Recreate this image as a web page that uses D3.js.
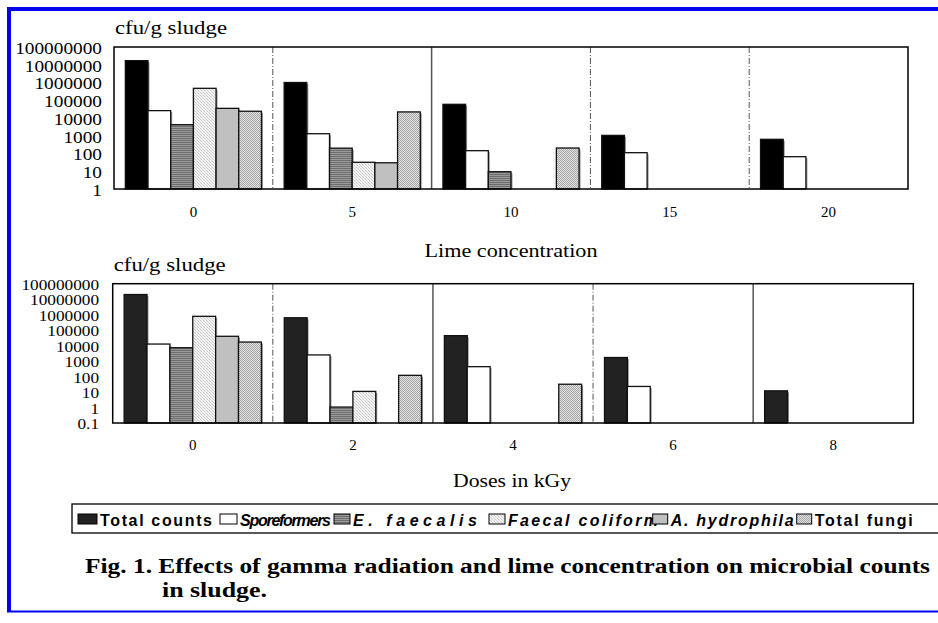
<html>
<script src='https://d3js.org/d3.v7.min.js'></script>
<style>
body { margin: 0; background: #fff; }
text { fill: #000; }
.serif { font-family: "Liberation Serif", "Times New Roman", serif; }
.sans { font-family: "Liberation Sans", Arial, sans-serif; font-weight: bold; }
</style>
<body onload='init()'>
<svg width=938 height=623></svg>
<script>
// categories
const limeGroups = ["0", "5", "10", "15", "20"];
const doseGroups = ["0", "2", "4", "6", "8"];
const seriesNames = ["Total counts", "Sporeformers", "E. faecalis", "Faecal coliform", "A. hydrophila", "Total fungi"];

// lime concentration panel, cfu/g sludge (null = no bar)
const limeTotal  = [1.7e7, 1.0e6, 5.9e4, 1.05e3, 630];
const limeSpore  = [2.6e4, 1.3e3, 144, 111, 66];
const limeEfaec  = [4.2e3, 200, 9.4, null, null];
const limeFaecal = [4.7e5, 32, null, null, null];
const limeAhyd   = [3.5e4, 30, null, null, null];
const limeFungi  = [2.4e4, 2.2e4, 204, null, null];

// gamma dose panel
const doseTotal  = [2.0e7, 6.3e5, 4.4e4, 1.7e3, 12];
const doseSpore  = [1.26e4, 2.5e3, 436, 23, null];
const doseEfaec  = [7.3e3, 1.07, null, null, null];
const doseFaecal = [7.8e5, 11, null, null, null];
const doseAhyd   = [4.0e4, null, null, null, null];
const doseFungi  = [1.7e4, 120, 32, null, null];

const limeTicks = [1, 10, 100, 1000, 10000, 100000, 1000000, 10000000, 100000000];
const doseTicks = [0.1, 1, 10, 100, 1000, 10000, 100000, 1000000, 10000000, 100000000];

const fills = ["#000", "#fff", "url(#pEf)", "url(#pFc)", "#c0c0c0", "url(#pFungi)"];

function stretch(sel, k) {
    sel.each(function() {
        const w = this.getComputedTextLength();
        d3.select(this).attr("textLength", w * k).attr("lengthAdjust", "spacingAndGlyphs");
    });
}

function panel(svg, o) {
    const g = svg.append("g");
    const x0 = d3.scaleBand().domain(o.groups).range([o.left, o.right]);
    const x1 = d3.scaleBand().domain(seriesNames).range([0, x0.bandwidth()]).paddingInner(0).paddingOuter(0.5);
    const y = d3.scaleLog().domain(o.domain).range([o.bottom, o.top]);

    const rows = [];
    o.series.forEach((vals, si) => vals.forEach((v, gi) => {
        if (v != null) rows.push({ g: o.groups[gi], s: seriesNames[si], si: si, v: v });
    }));

    // grey shadow on the right of each bar
    g.selectAll("rect.shadow").data(rows).enter().append("rect")
        .attr("class", "shadow")
        .attr("x", d => x0(d.g) + x1(d.s) + 1.5)
        .attr("y", d => y(d.v) + 1.5)
        .attr("width", x1.bandwidth())
        .attr("height", d => o.bottom - y(d.v) - 1.5)
        .attr("fill", "#999");

    g.selectAll("rect.bar").data(rows).enter().append("rect")
        .attr("class", "bar")
        .attr("x", d => x0(d.g) + x1(d.s))
        .attr("y", d => y(d.v))
        .attr("width", x1.bandwidth())
        .attr("height", d => o.bottom - y(d.v))
        .attr("fill", d => d.si == 0 ? o.totalColor : fills[d.si])
        .attr("stroke", "#111")
        .attr("stroke-width", 1.3);

    // separators between groups
    g.selectAll("line.sep").data(o.groups.slice(1)).enter().append("line")
        .attr("x1", d => x0(d)).attr("x2", d => x0(d))
        .attr("y1", o.top).attr("y2", o.bottom)
        .attr("stroke", (d, i) => o.sepSolid[i] ? "#555" : "#555")
        .attr("stroke-width", (d, i) => o.sepSolid[i] ? 1.5 : 1)
        .attr("stroke-dasharray", (d, i) => o.sepSolid[i] ? null : "6,2,1,2");

    g.append("rect")
        .attr("x", o.left).attr("y", o.top)
        .attr("width", o.right - o.left).attr("height", o.bottom - o.top)
        .attr("fill", "none").attr("stroke", "#000").attr("stroke-width", 1.5);

    const ya = g.append("g")
        .attr("transform", "translate(" + o.labelX + ",1)")
        .call(d3.axisLeft(y).tickValues(o.ticks).tickFormat(d => String(d)).tickSize(0).tickPadding(0));
    ya.select(".domain").remove();
    ya.selectAll("text").attr("class", "serif").style("font-size", o.tickFont + "px").attr("fill", "#000");
    stretch(ya.selectAll("text"), o.tickStretch);

    const xa = g.append("g")
        .attr("transform", "translate(0," + o.xLabelY + ")")
        .call(d3.axisBottom(x0).tickSize(0).tickPadding(0));
    xa.select(".domain").remove();
    xa.selectAll("text").attr("class", "serif").style("font-size", "15px").attr("fill", "#000");

    svg.append("text").attr("class", "serif")
        .attr("x", o.left + 1).attr("y", o.unitY)
        .style("font-size", "18px")
        .attr("textLength", 112).attr("lengthAdjust", "spacingAndGlyphs")
        .text("cfu/g sludge");

    svg.append("text").attr("class", "serif")
        .attr("x", o.titleX).attr("y", o.titleY)
        .attr("text-anchor", "middle")
        .style("font-size", "18px")
        .attr("textLength", o.titleW).attr("lengthAdjust", "spacingAndGlyphs")
        .text(o.title);
}

function init() {
    const svg = d3.select("svg");
    const defs = svg.append("defs");

    let p = defs.append("pattern").attr("id", "pEf").attr("width", 4).attr("height", 2).attr("patternUnits", "userSpaceOnUse");
    p.append("rect").attr("width", 4).attr("height", 2).attr("fill", "#9a9a9a");
    p.append("rect").attr("width", 4).attr("height", 1).attr("fill", "#6e6e6e");

    p = defs.append("pattern").attr("id", "pFc").attr("width", 3).attr("height", 3).attr("patternUnits", "userSpaceOnUse");
    p.append("rect").attr("width", 3).attr("height", 3).attr("fill", "#f2f2f2");
    p.append("rect").attr("x", 0).attr("y", 0).attr("width", 1).attr("height", 1).attr("fill", "#c8c8c8");
    p.append("rect").attr("x", 1).attr("y", 1).attr("width", 1).attr("height", 1).attr("fill", "#d8d8d8");
    p.append("rect").attr("x", 2).attr("y", 2).attr("width", 1).attr("height", 1).attr("fill", "#c8c8c8");

    p = defs.append("pattern").attr("id", "pFungi").attr("width", 2).attr("height", 2).attr("patternUnits", "userSpaceOnUse");
    p.append("rect").attr("width", 2).attr("height", 2).attr("fill", "#e0e0e0");
    p.append("rect").attr("width", 1).attr("height", 1).attr("fill", "#a8a8a8");
    p.append("rect").attr("x", 1).attr("y", 1).attr("width", 1).attr("height", 1).attr("fill", "#a8a8a8");

    // page frame
    svg.append("rect").attr("x", 0).attr("y", 0).attr("width", 938).attr("height", 623).attr("fill", "#fff");
    svg.append("line").attr("x1", 7).attr("x2", 938).attr("y1", 9).attr("y2", 9).attr("stroke", "#0000ee").attr("stroke-width", 4);
    svg.append("line").attr("x1", 9).attr("x2", 9).attr("y1", 7).attr("y2", 612).attr("stroke", "#0000ee").attr("stroke-width", 4);
    svg.append("line").attr("x1", 7).attr("x2", 938).attr("y1", 611.5).attr("y2", 611.5).attr("stroke", "#0000ee").attr("stroke-width", 2);

    panel(svg, {
        groups: limeGroups,
        series: [limeTotal, limeSpore, limeEfaec, limeFaecal, limeAhyd, limeFungi],
        left: 114, right: 908, top: 47, bottom: 189,
        domain: [1, 1e8], ticks: limeTicks,
        labelX: 102, tickFont: 16.5, tickStretch: 1.17,
        xLabelY: 206, totalColor: "#000",
        sepSolid: [false, true, false, false],
        unitY: 34,
        title: "Lime concentration", titleX: 511, titleY: 257, titleW: 173
    });

    panel(svg, {
        groups: doseGroups,
        series: [doseTotal, doseSpore, doseEfaec, doseFaecal, doseAhyd, doseFungi],
        left: 112.7, right: 913.3, top: 283.7, bottom: 423,
        domain: [0.1, 1e8], ticks: doseTicks,
        labelX: 99, tickFont: 15, tickStretch: 1.15,
        xLabelY: 439, totalColor: "#222",
        sepSolid: [false, true, false, true],
        unitY: 271,
        title: "Doses in kGy", titleX: 512, titleY: 487, titleW: 118
    });

    // legend
    const legendX = [78, 220, 334, 489, 652.7, 796.7];
    const legendSw = [19, 17, 16, 16, 15, 15];
    const legendTw = [112, 91, 124, 150, 123, 98];
    const lg = svg.append("g");
    lg.append("rect").attr("x", 72).attr("y", 504).attr("width", 880).attr("height", 29)
        .attr("fill", "#fff").attr("stroke", "#000").attr("stroke-width", 1.3);
    lg.selectAll("text").data(seriesNames).enter().append("text")
        .attr("class", "sans")
        .attr("x", (d, i) => legendX[i] + legendSw[i] + 3)
        .attr("y", 525.5)
        .style("font-size", "16px")
        .style("font-style", (d, i) => (i > 0 && i < 5) ? "italic" : "normal")
        .attr("textLength", (d, i) => legendTw[i]).attr("lengthAdjust", "spacing")
        .text(d => d);
    lg.selectAll("rect.sw").data(seriesNames).enter().append("rect")
        .attr("class", "sw")
        .attr("x", (d, i) => legendX[i]).attr("y", 514)
        .attr("width", (d, i) => legendSw[i]).attr("height", 10)
        .attr("fill", (d, i) => i == 0 ? "#222" : fills[i])
        .attr("stroke", "#000").attr("stroke-width", 1);

    // caption
    svg.append("text").attr("class", "serif")
        .attr("x", 85).attr("y", 573)
        .style("font-size", "20px").style("font-weight", "bold")
        .attr("textLength", 845).attr("lengthAdjust", "spacingAndGlyphs")
        .text("Fig. 1. Effects of gamma radiation and lime concentration on microbial counts");
    svg.append("text").attr("class", "serif")
        .attr("x", 162).attr("y", 597)
        .style("font-size", "20px").style("font-weight", "bold")
        .attr("textLength", 105).attr("lengthAdjust", "spacingAndGlyphs")
        .text("in sludge.");
}
</script>
</body>
</html>
